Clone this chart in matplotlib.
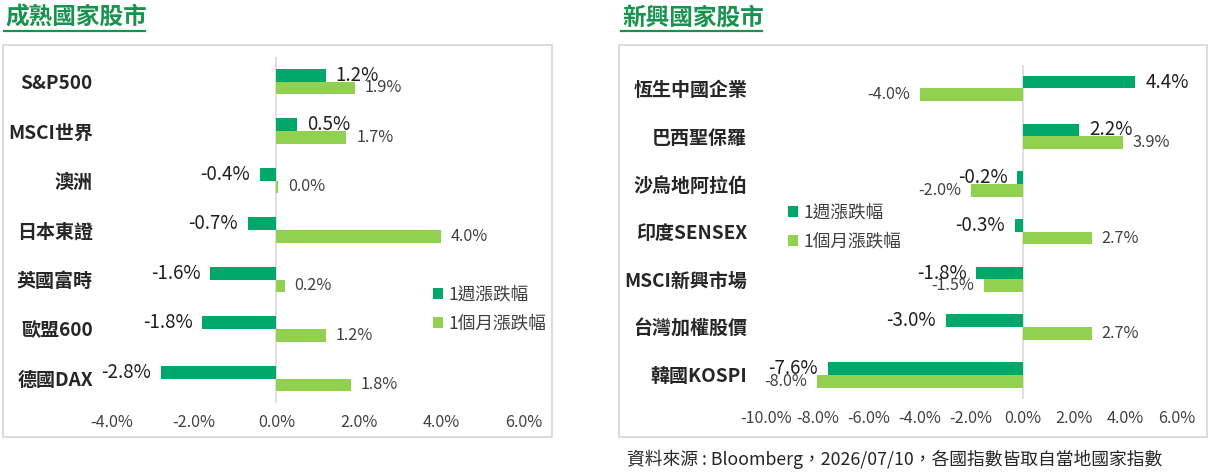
import numpy as np
import matplotlib
matplotlib.use("Agg")
import matplotlib.pyplot as plt
from matplotlib.patches import Rectangle
from matplotlib.lines import Line2D

plt.rcParams['font.family'] = ['Noto Sans CJK TC', 'DejaVu Sans']

# data
mature_names = ['S&P500', 'MSCI世界', '澳洲', '日本東證', '英國富時', '歐盟600', '德國DAX']
mature_week = [1.2, 0.5, -0.4, -0.7, -1.6, -1.8, -2.8]
mature_month = [1.9, 1.7, 0.04, 4.0, 0.2, 1.2, 1.8]
mature_ticks = [-4, -2, 0, 2, 4, 6]

emerging_names = ['恆生中國企業', '巴西聖保羅', '沙烏地阿拉伯', '印度SENSEX', 'MSCI新興市場', '台灣加權股價', '韓國KOSPI']
emerging_week = [4.4, 2.2, -0.2, -0.3, -1.8, -3.0, -7.6]
emerging_month = [-4.0, 3.9, -2.0, 2.7, -1.5, 2.7, -8.0]
emerging_ticks = [-10, -8, -6, -4, -2, 0, 2, 4, 6]

legend_labels = ['1週漲跌幅', '1個月漲跌幅']
source_text = '資料來源 : Bloomberg，2026/07/10，各國指數皆取自當地國家指數'

DARK = '#00A76B'
LIGHT = '#92D050'
TITLE = '#17924F'
W, H = 1209, 474


def fx(x):
    return x / W


def fy(y):
    return 1 - y / H


fig = plt.figure(figsize=(W / 100, H / 100), dpi=100)

# frames and titles
for x0, x1 in [(3, 552), (619, 1207)]:
    fig.patches.append(Rectangle((fx(x0), fy(437)), fx(x1 - x0), (437 - 45) / H,
                                 transform=fig.transFigure, fill=False,
                                 edgecolor='#D9D9D9', lw=1.3))
for x0, x1, t in [(4, 145, '成熟國家股市'), (621, 762, '新興國家股市')]:
    fig.text(fx(x0 + 1), fy(18), t, color=TITLE, fontsize=17, fontweight='bold',
             ha='left', va='center')
    fig.lines.append(Line2D([fx(x0), fx(x1)], [fy(31), fy(31)], transform=fig.transFigure,
                            color=TITLE, lw=1.6))


def draw(ax, names, week, month, xmin, xmax, ticks, h, leg_anchor):
    y = np.arange(len(names))
    b1 = ax.barh(y - h / 2, week, height=h, color=DARK)
    b2 = ax.barh(y + h / 2, month, height=h, color=LIGHT)
    ax.set_xlim(xmin, xmax)
    ax.set_ylim(len(names) - 0.5, -0.5)
    ax.axvline(0, color='#D9D9D9', lw=1.2, zorder=0)
    for s in ax.spines.values():
        s.set_visible(False)
    ax.set_yticks(y)
    ax.set_yticklabels(names, fontsize=13.7, fontweight='bold', color='#262626')
    ax.set_xticks(ticks)
    ax.set_xticklabels([f'{t:.1f}%' for t in ticks], fontsize=11.7, color='#404040',
                       fontweight='light')
    ax.tick_params(axis='y', length=0, pad=13.5)
    ax.tick_params(axis='x', length=0, pad=8)
    for i in range(len(names)):
        for v, yy, sz, c, wt in [(week[i], i - h / 2, 13.5, '#1F1F1F', 'medium'),
                                 (month[i], i + h / 2, 11.7, '#404040', 'light')]:
            ax.annotate(f'{v:.1f}%', xy=(v, yy), xytext=(7 if v >= 0 else -7, 0),
                        textcoords='offset points', ha='left' if v >= 0 else 'right',
                        va='center', fontsize=sz, color=c, fontweight=wt)
    ax.legend([b1, b2], legend_labels, loc='upper left', bbox_to_anchor=leg_anchor,
              bbox_transform=fig.transFigure, frameon=False, borderpad=0,
              borderaxespad=0, handlelength=0.55, handleheight=0.55, handletextpad=0.35,
              labelspacing=0.6, prop={'size': 12.7, 'weight': 'light'},
              labelcolor='#404040')


ax1 = fig.add_axes([fx(111.6), fy(403.25), 412 / W, 346.5 / H])
draw(ax1, mature_names, mature_week, mature_month, -4, 6, mature_ticks, 0.257,
     (fx(433), fy(286)))

ax2 = fig.add_axes([fx(766), fy(398.8), 410.5 / W, 334.2 / H])
draw(ax2, emerging_names, emerging_week, emerging_month, -10, 6, emerging_ticks, 0.266,
     (fx(788), fy(204)))

fig.text(fx(627), fy(459), source_text, fontsize=12.8, color='#262626', ha='left', va='center')

fig.savefig('out.png', dpi=100)
